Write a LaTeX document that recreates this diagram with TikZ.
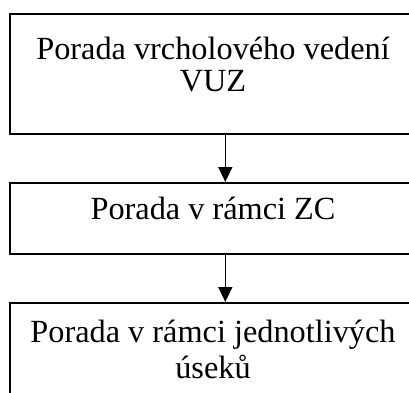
\documentclass[tikz,border=0pt]{standalone}
\usepackage{fontspec}
\setmainfont{Liberation Serif}
\usetikzlibrary{arrows.meta}
\begin{document}
\begin{tikzpicture}[x=1pt,y=-1pt,
  box/.style={draw=black,line width=1.6pt,inner sep=0pt,anchor=north west},
  lbl/.style={anchor=base,inner sep=0pt,font=\fontsize{32.3}{33}\selectfont},
  conn/.style={draw=black,line width=1.6pt,-{Triangle[width=14pt,length=15pt]}}]
\useasboundingbox (0,0) rectangle (409,392);
\node[box,minimum width=431pt,minimum height=120pt] (b1) at (9,13) {};
\node[box,minimum width=431pt,minimum height=71pt] (b2) at (9,182) {};
\node[box,minimum width=431pt,minimum height=120pt] (b3) at (9,302) {};
\node[lbl] (t1a) at (213,59) {Porada vrcholového vedení};
\node[lbl] (t1b) at (213,91) {VUZ};
\node[lbl] (t2) at (213,219) {Porada v rámci ZC};
\node[lbl] (t3a) at (213,342) {Porada v rámci jednotlivých};
\node[lbl] (t3b) at (213,378) {úseků};
\draw[conn] (b1.south) -- (b2.north);
\draw[conn] (b2.south) -- (b3.north);
\end{tikzpicture}
\end{document}
